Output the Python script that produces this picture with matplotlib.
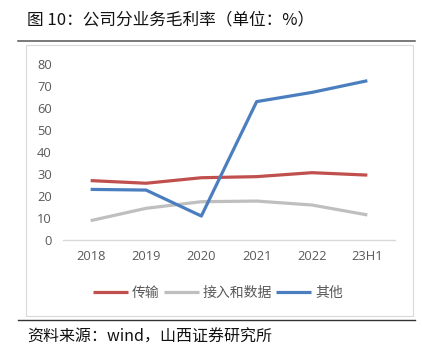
import matplotlib
matplotlib.use("Agg")
import matplotlib.pyplot as plt
from matplotlib.patches import Rectangle
from matplotlib.lines import Line2D

plt.rcParams['font.family'] = ['Noto Sans CJK SC', 'DejaVu Sans']

categories = ["2018", "2019", "2020", "2021", "2022", "23H1"]
series_names = ["传输", "接入和数据", "其他"]
transmission = [27.0, 25.8, 28.3, 28.8, 30.6, 29.5]
access_data = [8.8, 14.4, 17.4, 17.7, 15.9, 11.4]
others = [23.0, 22.7, 10.9, 62.9, 67.1, 72.4]
yticks = [0, 10, 20, 30, 40, 50, 60, 70, 80]
colors = ["#C0504D", "#BFBFBF", "#4A7EBF"]

W, H = 422, 355
fig = plt.figure(figsize=(W / 100, H / 100), dpi=100)

def fx(x):
    return x / W

def fy(y):
    return 1 - y / H

# outer frame box
box = Rectangle((fx(26), fy(316)), fx(413) - fx(26), fy(45) - fy(316),
                transform=fig.transFigure, facecolor="none",
                edgecolor="#D9D9D9", linewidth=0.8, zorder=-5)
fig.add_artist(box)
# horizontal rules
fig.add_artist(Line2D([fx(18), fx(415)], [fy(41), fy(41)], color="#555555", linewidth=1.1))
fig.add_artist(Line2D([fx(18), fx(415)], [fy(319.5), fy(319.5)], color="#333333", linewidth=1.0))

ax = fig.add_axes([fx(63), fy(240), fx(395) - fx(63), fy(64) - fy(240)], zorder=2)
ax.set_facecolor("none")
x = list(range(len(categories)))
for vals, name, c in zip([transmission, access_data, others], series_names, colors):
    ax.plot(x, vals, color=c, linewidth=2.3, label=name, solid_capstyle="butt")

ax.set_xlim(-0.5, len(categories) - 0.5)
ax.set_ylim(0, 80)
ax.set_yticks(yticks)
ax.set_xticks(x)
ax.set_xticklabels(categories)
for s in ["top", "right", "left"]:
    ax.spines[s].set_visible(False)
ax.spines["bottom"].set_color("#D9D9D9")
ax.spines["bottom"].set_linewidth(1.0)
ax.tick_params(axis="both", length=0, labelsize=9.3, labelcolor="#595959")
ax.tick_params(axis="y", pad=8)
ax.tick_params(axis="x", pad=7)
for lab in ax.get_xticklabels() + ax.get_yticklabels():
    lab.set_family(["Open Sans", "DejaVu Sans"])

handles, labels = ax.get_legend_handles_labels()
leg = fig.legend(handles, labels, loc="center", bbox_to_anchor=(fx(218), fy(293)),
                 ncol=3, frameon=False, handlelength=2.5, handletextpad=0.3,
                 columnspacing=0.3, fontsize=10, labelcolor="#595959")

fig.text(fx(27), fy(20), "图 10：公司分业务毛利率（单位：%）", fontsize=12,
         ha="left", va="center", color="#111111")
fig.text(fx(27), fy(337), "资料来源：wind，山西证券研究所", fontsize=11.5,
         ha="left", va="center", color="#111111")

fig.savefig("out.png", dpi=100)
